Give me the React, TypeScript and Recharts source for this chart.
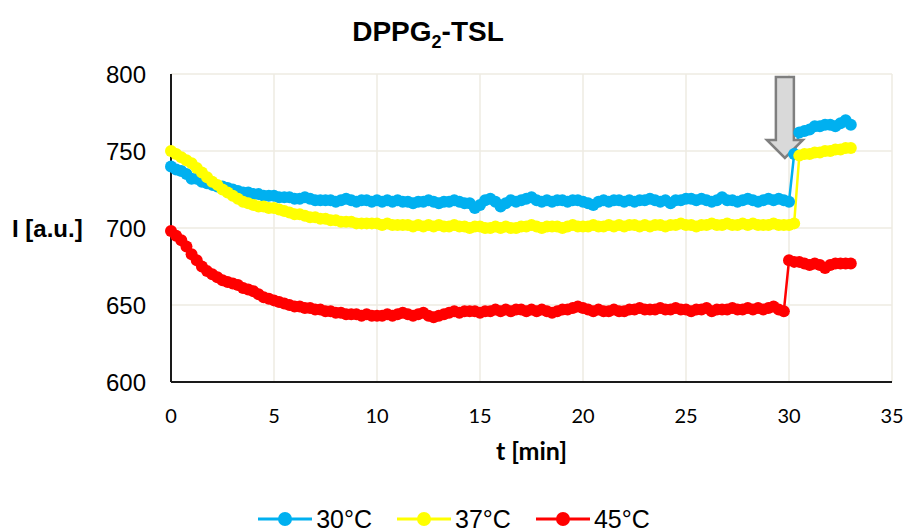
import React from 'react';
import { LineChart, Line, XAxis, YAxis, CartesianGrid, ReferenceDot, Label } from 'recharts';

// sampling interval of the measurement [min]
const STEP = 0.25;

// 30°C: 0–30 min, then after addition from 30.25 min
const cyanLow = [
  740, 738, 737, 735, 732, 732, 730, 729, 728, 727, 727, 726, 725, 724, 723, 723, 722, 722, 721, 721, 721,
  720, 720, 720, 719, 719, 720, 719, 718, 718, 718, 718, 717, 718, 719, 718, 717, 718, 718, 717, 718,
  717, 718, 717, 718, 717, 717, 716, 717, 717, 718, 717, 716, 717, 717, 718, 717, 716, 716, 713, 715,
  718, 719, 717, 714, 716, 718, 717, 718, 719, 720, 718, 717, 718, 717, 718, 718, 717, 718, 718, 717,
  716, 715, 717, 718, 717, 718, 718, 717, 718, 717, 718, 718, 719, 718, 717, 718, 716, 718, 718, 719,
  719, 718, 719, 718, 717, 718, 720, 718, 718, 717, 718, 719, 718, 717, 718, 719, 718, 719, 718, 717,
];
const cyanHigh = [748, 762, 763, 764, 766, 766, 767, 767, 766, 768, 770, 767];

// 37°C: 0–30.25 min, then from 30.5 min
const yellowLow = [
  750, 748, 746, 744, 742, 739, 736, 733, 730, 728, 725, 723, 721, 719, 717, 716, 715, 714, 714, 713, 713,
  712, 711, 710, 709, 709, 708, 707, 707, 706, 706, 705, 705, 704, 704, 704, 703, 703, 703, 703, 703,
  702, 703, 702, 702, 702, 702, 701, 702, 701, 702, 701, 702, 701, 701, 702, 701, 701, 700, 701, 701,
  700, 700, 701, 700, 701, 700, 700, 701, 701, 702, 701, 700, 701, 701, 701, 700, 701, 702, 701, 701,
  701, 702, 701, 701, 702, 701, 702, 701, 702, 702, 701, 702, 701, 702, 702, 701, 702, 702, 703, 702,
  702, 701, 702, 702, 703, 702, 702, 703, 702, 702, 703, 702, 703, 702, 702, 702, 703, 702, 702, 702,
  703,
];
const yellowHigh = [747, 748, 748, 749, 749, 750, 750, 751, 751, 752, 752];

// 45°C: 0–29.75 min, then from 30 min
const redLow = [
  698, 695, 692, 688, 683, 679, 675, 672, 670, 668, 666, 665, 664, 663, 661, 660, 659, 657, 655, 654, 653,
  652, 651, 650, 649, 649, 648, 648, 647, 647, 646, 646, 645, 645, 644, 644, 644, 643, 644, 643, 643,
  643, 644, 643, 644, 645, 644, 643, 644, 645, 643, 642, 643, 644, 645, 646, 645, 646, 646, 646, 645,
  646, 646, 647, 646, 647, 646, 647, 647, 646, 647, 646, 647, 646, 645, 646, 647, 647, 648, 649, 648,
  647, 646, 647, 646, 646, 647, 646, 646, 647, 647, 648, 647, 647, 647, 648, 647, 647, 648, 647, 647,
  646, 647, 647, 648, 646, 647, 647, 647, 648, 647, 647, 648, 647, 648, 647, 648, 649, 647, 646,
];
const redHigh = [679, 678, 678, 677, 676, 677, 676, 674, 676, 677, 677, 677, 677];

const xTicks = [0, 5, 10, 15, 20, 25, 30, 35];
const yTicks = [600, 650, 700, 750, 800];

const toPoints = (values: number[], start: number) =>
  values.map((v, i) => ({ t: start + i * STEP, v }));

const series = [
  { name: '30°C', color: '#00b0f0', data: [...toPoints(cyanLow, 0), ...toPoints(cyanHigh, 30.25)] },
  { name: '37°C', color: '#ffff00', data: [...toPoints(yellowLow, 0), ...toPoints(yellowHigh, 30.5)] },
  { name: '45°C', color: '#ff0000', data: [...toPoints(redLow, 0), ...toPoints(redHigh, 30)] },
];

// block arrow marking the moment of addition, tip at (cx, cy)
const Arrow = (props: any) => {
  const { cx, cy } = props;
  const pts = [
    [cx - 9, cy - 81], [cx + 9, cy - 81], [cx + 9, cy - 18], [cx + 18, cy - 18],
    [cx, cy], [cx - 18, cy - 18], [cx - 9, cy - 18],
  ].map((p) => p.join(',')).join(' ');
  return <polygon points={pts} fill="#d9d9d9" stroke="#7f7f7f" strokeWidth={2.5} strokeLinejoin="miter" />;
};

export default function App() {
  return (
    <div style={{ position: 'absolute', left: 0, top: 0, width: 908, height: 532, background: '#fff', overflow: 'hidden' }}>
      <svg width={908} height={60} style={{ position: 'absolute', left: 0, top: 0 }}>
        <text x={428} y={41} textAnchor="middle" fontFamily="'Liberation Sans', Arial, sans-serif" fontWeight="bold" fontSize={28} fill="#000">
          DPPG<tspan dy={7} fontSize={18}>2</tspan><tspan dy={-7}>-TSL</tspan>
        </text>
      </svg>
      <div style={{ position: 'absolute', left: 0, top: 0 }}>
        <LineChart width={908} height={480} margin={{ top: 74, right: 16, left: 0, bottom: 0 }}>
          <CartesianGrid stroke="#eeebe2" strokeWidth={1.5} />
          <XAxis
            type="number"
            dataKey="t"
            domain={[0, 35]}
            ticks={xTicks}
            height={98}
            tickSize={0}
            tickMargin={27}
            axisLine={{ stroke: '#1a1a1a', strokeWidth: 2 }}
            tick={{ fontFamily: 'Lato, sans-serif', fontSize: 20, fill: '#000' }}
          >
            <Label value="t [min]" position="insideTop" offset={60} fontFamily="Lato, sans-serif" fontWeight="bold" fontSize={25} fill="#000" />
          </XAxis>
          <YAxis
            type="number"
            domain={[600, 800]}
            ticks={yTicks}
            width={171}
            tickSize={0}
            tickMargin={25}
            axisLine={{ stroke: '#1a1a1a', strokeWidth: 2 }}
            tick={{ fontFamily: "'Liberation Sans', Arial, sans-serif", fontSize: 24, fill: '#000' }}
          >
            <Label value="I [a.u.]" position="insideLeft" offset={12} fontFamily="'Liberation Sans', Arial, sans-serif" fontWeight="bold" fontSize={24} fill="#000" />
          </YAxis>
          <ReferenceDot x={29.8} y={745.5} shape={<Arrow />} />
          {series.map((s) => (
            <Line
              key={s.name}
              data={s.data}
              dataKey="v"
              name={s.name}
              stroke={s.color}
              strokeWidth={2.5}
              dot={{ r: 6, fill: s.color, stroke: s.color, strokeWidth: 0 }}
              activeDot={false}
              isAnimationActive={false}
            />
          ))}
        </LineChart>
      </div>
      <div
        style={{
          position: 'absolute', left: 0, top: 506, width: 908, height: 26, display: 'flex', justifyContent: 'center',
          gap: 25, fontFamily: "'Liberation Sans', Arial, sans-serif", fontSize: 25, color: '#000', lineHeight: '26px',
        }}
      >
        {series.map((s) => (
          <div key={s.name} style={{ display: 'flex', alignItems: 'center', gap: 4 }}>
            <svg width={54} height={20}>
              <line x1={0} y1={10} x2={54} y2={10} stroke={s.color} strokeWidth={3} />
              <circle cx={27} cy={10} r={7} fill={s.color} />
            </svg>
            <span>{s.name}</span>
          </div>
        ))}
      </div>
    </div>
  );
}
